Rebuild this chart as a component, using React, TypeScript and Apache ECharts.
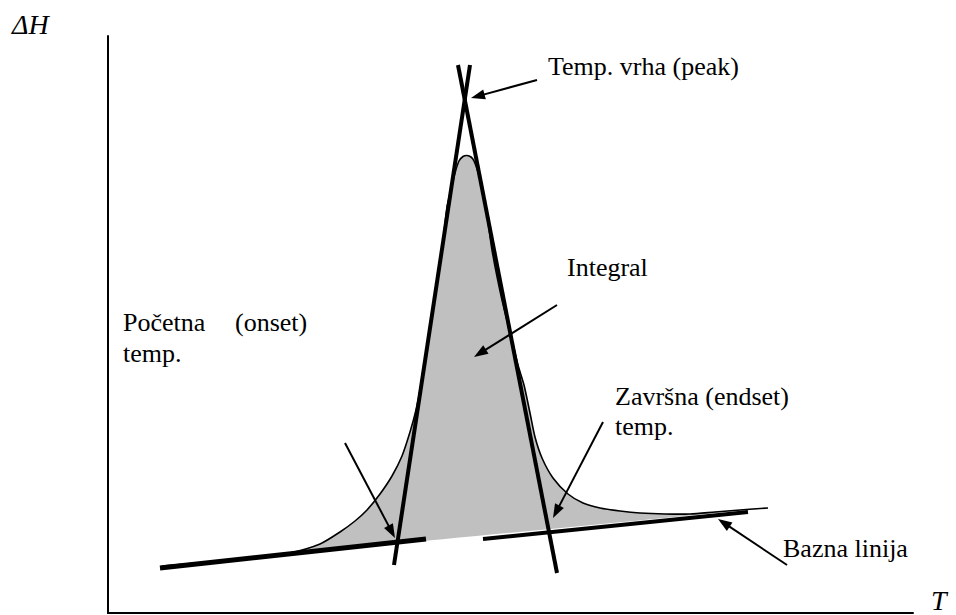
import React, { useEffect, useRef } from "react";
import * as echarts from "echarts";

// Axis extents (arbitrary units of temperature T and heat flow ΔH)
const T_MAX = 805;
const H_MAX = 577;

// DSC peak curve (T, ΔH)
const curveT = [54, 112, 152, 182, 212, 232, 247, 259, 272, 284, 294, 302, 308, 313, 320, 327, 334, 339, 343, 347, 351, 355, 359, 363, 366, 370, 374, 378, 384, 394, 404, 410, 416, 422, 427, 434, 445, 460, 475, 492, 512, 532, 557, 582, 607, 632, 660];
const curveH = [47, 52, 56, 60, 69, 81, 92, 103, 119, 137, 157, 181, 203, 228, 273, 318, 363, 406, 423, 440, 452, 456.5, 457.5, 456, 452, 441, 425, 406, 363, 313, 273, 248, 228, 200, 176, 155, 135, 119, 110, 105, 102, 100, 99, 99, 101, 103, 105];

// Tangents and baseline pieces: [T0, H0, T1, H1]
const onsetTangent = [286, 48, 362, 548];
const endsetTangent = [350, 548, 449, 40];
const baselineLeft = [52, 45, 318, 74];
const baselineRight = [375, 74, 640, 101];

// Arrows: [T tail, H tail, T head, H head]
const arrows = [
  [429, 533, 363, 515],
  [449, 308, 366, 256],
  [237, 170, 287, 75],
  [495, 191, 445, 95],
  [679, 48, 610, 94],
];

// Annotation texts
const labelTexts = ["Temp. vrha (peak)", "Integral", "Početna", "(onset)", "temp.", "Završna (endset)", "temp.", "Bazna linija"];
const axisNames = ["ΔH", "T"];

export default function App() {
  const ref = useRef<HTMLDivElement>(null);

  useEffect(() => {
    document.body.style.margin = "0";
    const chart = echarts.init(ref.current!, undefined, { renderer: "svg" });
    const family = "'Liberation Serif', 'Times New Roman', serif";
    const labelPos = [
      [548, 66],
      [567, 267],
      [123, 322],
      [235, 322],
      [123, 353],
      [615, 396],
      [615, 426],
      [783, 548],
    ];
    const seg = (s: number[], w: number) => ({
      type: "line",
      data: [
        [s[0], s[1]],
        [s[2], s[3]],
      ],
      symbol: "none",
      lineStyle: { color: "#000", width: w, cap: "butt" },
      z: 4,
      silent: true,
    });
    const axisCommon = {
      type: "value",
      axisLine: { show: true, lineStyle: { color: "#000", width: 2 } },
      axisTick: { show: false },
      axisLabel: { show: false },
      splitLine: { show: false },
    };
    chart.setOption({
      animation: false,
      backgroundColor: "#fff",
      grid: { left: 108, top: 36, width: 805, height: 577 },
      xAxis: { ...axisCommon, min: 0, max: T_MAX },
      yAxis: { ...axisCommon, min: 0, max: H_MAX },
      series: [
        {
          type: "custom",
          coordinateSystem: "cartesian2d",
          data: [[0, 0]],
          clip: false,
          z: 2,
          silent: true,
          renderItem: (_params: any, api: any) => {
            const pts = curveT.map((t, i) => api.coord([t, curveH[i]]));
            return {
              type: "group",
              children: [
                {
                  type: "polygon",
                  shape: { points: pts, smooth: 0.25 },
                  style: { fill: "#c0c0c0", stroke: "none" },
                },
                {
                  type: "polyline",
                  shape: { points: pts, smooth: 0.25 },
                  style: { fill: "none", stroke: "#000", lineWidth: 1.6 },
                },
              ],
            };
          },
        },
        seg(baselineLeft, 5),
        seg(baselineRight, 4),
        seg(onsetTangent, 4),
        seg(endsetTangent, 4),
        {
          type: "custom",
          coordinateSystem: "cartesian2d",
          data: arrows,
          encode: { x: [0, 2], y: [1, 3] },
          clip: false,
          z: 6,
          silent: true,
          renderItem: (_params: any, api: any) => {
            const p0 = api.coord([api.value(0), api.value(1)]);
            const p1 = api.coord([api.value(2), api.value(3)]);
            const dx = p1[0] - p0[0];
            const dy = p1[1] - p0[1];
            const len = Math.sqrt(dx * dx + dy * dy);
            const ux = dx / len;
            const uy = dy / len;
            const L = 14;
            const W = 5;
            const bx = p1[0] - ux * L;
            const by = p1[1] - uy * L;
            return {
              type: "group",
              children: [
                {
                  type: "line",
                  shape: { x1: p0[0], y1: p0[1], x2: bx + ux * 2, y2: by + uy * 2 },
                  style: { stroke: "#000", lineWidth: 2 },
                },
                {
                  type: "polygon",
                  shape: {
                    points: [
                      [p1[0], p1[1]],
                      [bx - uy * W, by + ux * W],
                      [bx + uy * W, by - ux * W],
                    ],
                  },
                  style: { fill: "#000" },
                },
              ],
            };
          },
        },
      ],
      graphic: [
        ...labelTexts.map((t, i) => ({
          type: "text",
          x: labelPos[i][0],
          y: labelPos[i][1],
          silent: true,
          style: {
            text: t,
            fill: "#000",
            font: "26px " + family,
            align: "left",
            verticalAlign: "middle",
          },
        })),
        {
          type: "text",
          x: 12,
          y: 24,
          style: {
            text: axisNames[0],
            fill: "#000",
            font: "italic 28px " + family,
            align: "left",
            verticalAlign: "middle",
          },
        },
        {
          type: "text",
          x: 931,
          y: 600,
          style: {
            text: axisNames[1],
            fill: "#000",
            font: "italic 28px " + family,
            align: "left",
            verticalAlign: "middle",
          },
        },
      ],
    });
    return () => chart.dispose();
  }, []);

  return <div ref={ref} style={{ width: 956, height: 615 }} />;
}
